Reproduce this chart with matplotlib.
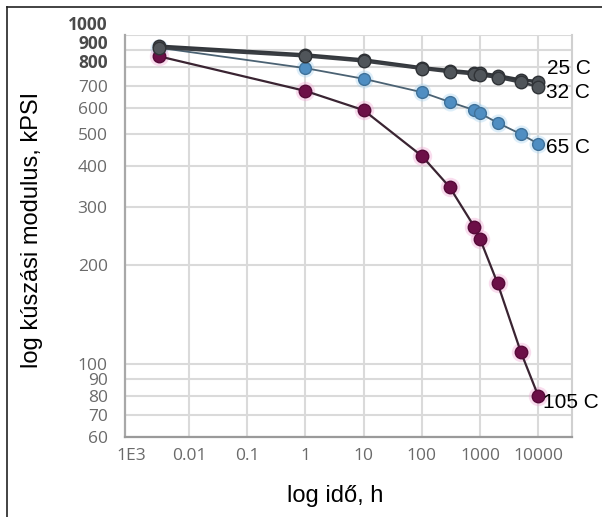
import matplotlib
matplotlib.use("Agg")
import matplotlib.pyplot as plt
import matplotlib.transforms as mtransforms
from matplotlib.lines import Line2D
from matplotlib.ticker import NullLocator

# time, h (shared by all series)
times = [0.003, 1, 10, 100, 300, 800, 1000, 2000, 5000, 10000]

# creep modulus, kPSI
mod_25 = [925, 870, 840, 795, 780, 768, 765, 752, 730, 722]
mod_32 = [915, 862, 832, 790, 772, 760, 755, 742, 718, 697]
mod_65 = [915, 793, 736, 670, 626, 591, 578, 541, 500, 467]
mod_105 = [862, 676, 591, 429, 345, 261, 240, 176, 109, 80]

x_ticks = [1e-3, 1e-2, 1e-1, 1, 10, 100, 1000, 10000]
x_labels = ["1E3", "0.01", "0.1", "1", "10", "100", "1000", "10000"]
y_ticks = [60, 70, 80, 90, 100, 200, 300, 400, 500, 600, 700, 800, 900, 1000]
y_labels = [str(v) for v in y_ticks]

fig = plt.figure(figsize=(6.02, 5.17), dpi=100)
ax = fig.add_axes([125 / 602, 1 - 437 / 517, 447 / 602, 402 / 517])
ax.set_xscale("log")
ax.set_yscale("log")
ax.set_xlim(10 ** -3.1, 10 ** 4.58)
ax.set_ylim(60, 1000)

# glow behind markers
ax.plot(times, mod_65, "o", ms=13, color="#9fd0f0", alpha=0.35, mec="none", zorder=2)
ax.plot(times, mod_105, "o", ms=14, color="#f0a0d0", alpha=0.35, mec="none", zorder=2)

ax.plot(times, mod_25, "-o", color="#33373c", lw=2.5, ms=9, mfc="#4b5055", mec="#2e3135", zorder=4)
ax.plot(times, mod_32, "-o", color="#3a3e43", lw=2.0, ms=9, mfc="#50555a", mec="#303337", zorder=4)
ax.plot(times, mod_65, "-o", color="#4b6273", lw=1.3, ms=8.5, mfc="#4f8ec2", mec="#3f7199", zorder=3)
ax.plot(times, mod_105, "-o", color="#3a2432", lw=1.6, ms=9, mfc="#6c0f47", mec="#560a38", zorder=3)

lab_kw = dict(textcoords="offset pixels", fontsize=15, family="Liberation Sans",
              color="black", ha="left", va="center")
ax.annotate("25 C", (times[-1], mod_25[-1]), xytext=(9, 13), **lab_kw)
ax.annotate("32 C", (times[-1], mod_32[-1]), xytext=(8, -6), **lab_kw)
ax.annotate("65 C", (times[-1], mod_65[-1]), xytext=(8, -4), **lab_kw)
ax.annotate("105 C", (times[-1], mod_105[-1]), xytext=(5, -7), **lab_kw)

# axes, ticks, grid
ax.set_xticks(x_ticks[1:], x_labels[1:])
ax.set_xticks(x_ticks[:1], x_labels[:1], minor=True)
ax.set_yticks(y_ticks, y_labels)
ax.yaxis.set_minor_locator(NullLocator())
ax.grid(True, which="major", color="#dadada", lw=1.5)
ax.set_axisbelow(True)
ax.tick_params(axis="both", which="both", length=0, labelsize=12.5, labelcolor="#6a6a6a")
ax.tick_params(axis="x", which="both", pad=8)
ax.tick_params(axis="y", pad=12.5)
for lbl in ax.get_xticklabels(which="both") + ax.get_yticklabels():
    lbl.set_family("Open Sans")

offsets = {"800": -6, "900": -8, "1000": -12}
for lbl in ax.get_yticklabels():
    if lbl.get_text() in offsets:
        lbl.set_fontweight("bold")
        lbl.set_color("#4a4a4a")
        lbl.set_transform(lbl.get_transform() + mtransforms.ScaledTranslation(
            0, -offsets[lbl.get_text()] / 100, fig.dpi_scale_trans))

ax.spines["top"].set_visible(False)
ax.spines["right"].set_color("#d0d0d0")
ax.spines["right"].set_linewidth(1.5)
ax.spines["left"].set_color("#a8a8a8")
ax.spines["left"].set_linewidth(1.6)
ax.spines["bottom"].set_color("#9a9a9a")
ax.spines["bottom"].set_linewidth(1.6)

fig.text(335 / 602, 1 - 496 / 517, "log idő, h", fontsize=17, family="Liberation Sans",
         ha="center", va="center")
fig.text(32 / 602, 1 - 230 / 517, "log kúszási modulus, kPSI", fontsize=17,
         family="Liberation Sans", rotation=90, ha="center", va="center")

# outer frame (top and left edges)
fig.add_artist(Line2D([7 / 602, 1], [1 - 7 / 517, 1 - 7 / 517], color="#222222", lw=1.2))
fig.add_artist(Line2D([7 / 602, 7 / 602], [0, 1 - 7 / 517], color="#222222", lw=1.2))

fig.savefig("out.png", dpi=100)
